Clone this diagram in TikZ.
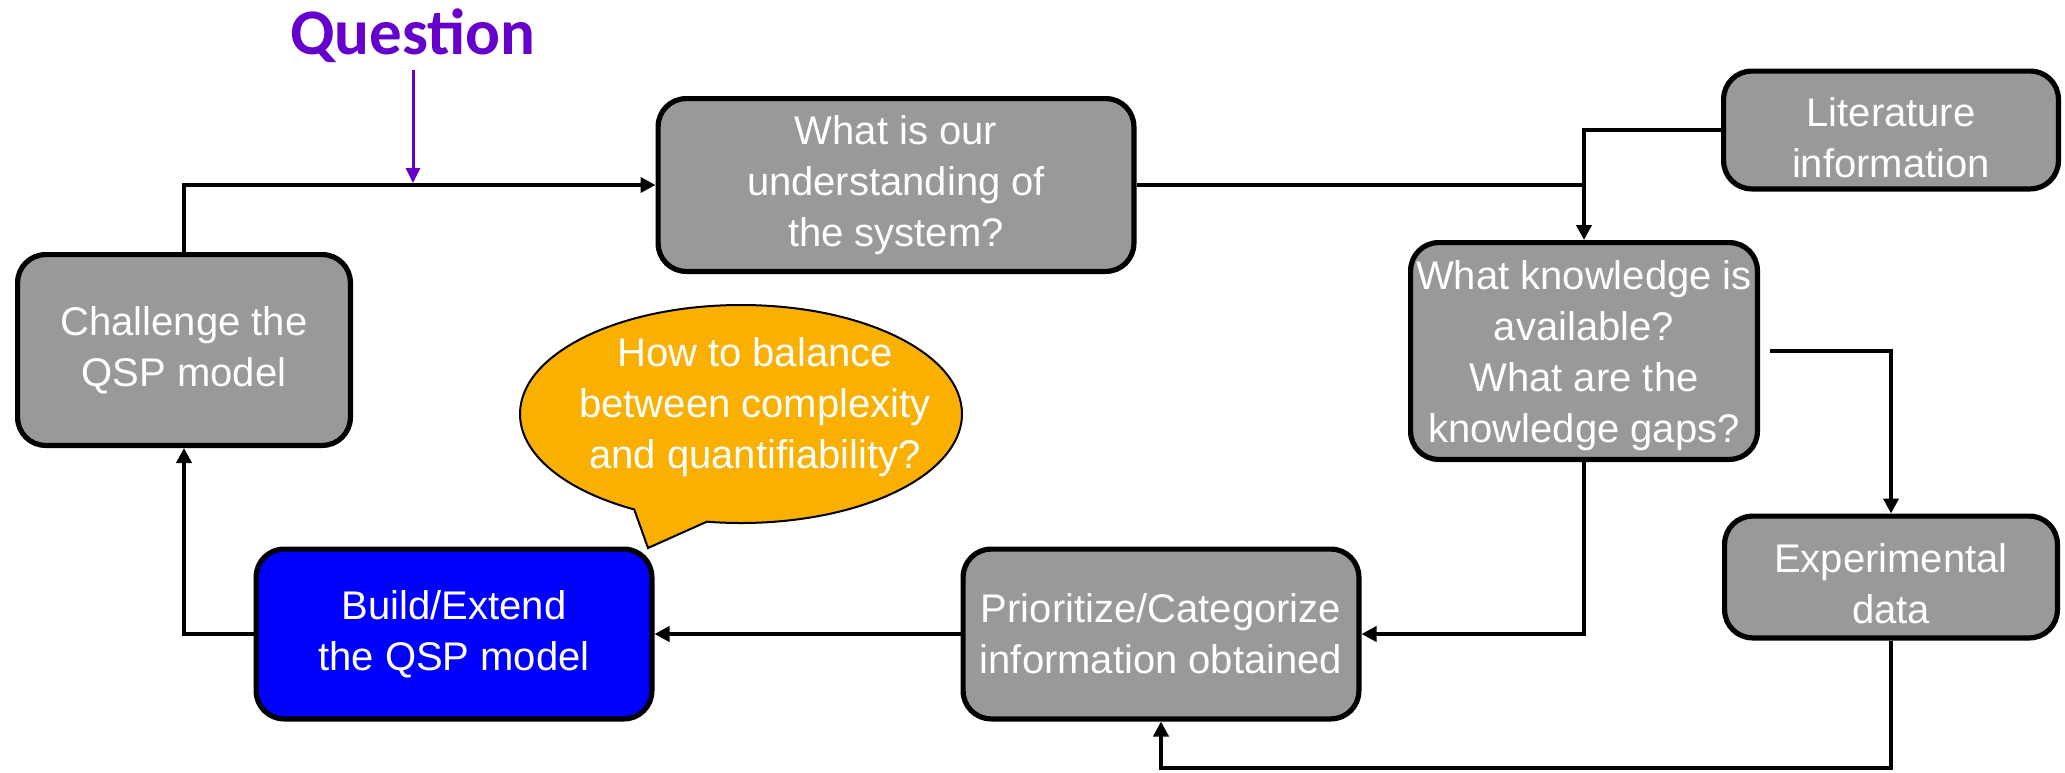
\documentclass[tikz,border=0pt]{standalone}
\usepackage{fontspec}
\setmainfont{Liberation Sans}
\newfontfamily\qfont{Carlito}
\usetikzlibrary{arrows.meta,shapes.callouts}
\definecolor{boxgray}{HTML}{999999}
\definecolor{qspblue}{HTML}{0000FF}
\definecolor{bubbleorange}{HTML}{F9B000}
\definecolor{qpurple}{HTML}{6600CC}
% lines set a little below the box centre, without changing the box size
\newcommand\lowered[2]{\raisebox{-#1}[\height][\depth]{\begin{tabular}{@{}c@{}}#2\end{tabular}}}
\begin{document}
\begin{tikzpicture}[x=0.5pt,y=-0.5pt,
  stepbox/.style={draw=black, line width=2.6pt, fill=boxgray, rounded corners=14pt,
    align=center, text=white, inner sep=0pt, font=\fontsize{20}{25.5}\selectfont},
  conn/.style={line width=2pt, -{Triangle[length=7.5pt,width=7.5pt]}},
  plainline/.style={line width=2pt},
  qarrow/.style={line width=1.5pt, draw=qpurple, -{Triangle[length=7.5pt,width=7pt]}},
  ]
\useasboundingbox (0,0) rectangle (2065,772);

% process steps
\node[stepbox, minimum width=166.4pt, minimum height=95.4pt] (challenge) at (184,350) {Challenge the\\QSP model};
\node[stepbox, minimum width=237.9pt, minimum height=86.4pt] (underst) at (896,185) {What is our\\understanding of\\the system?};
\node[stepbox, minimum width=167.4pt, minimum height=58.9pt] (lit) at (1891,130) {\lowered{6pt}{Literature\\information}};
\node[stepbox, minimum width=173.4pt, minimum height=108.4pt] (know) at (1584,351) {\lowered{2.5pt}{What knowledge is\\available?\\What are the\\knowledge gaps?}};
\node[stepbox, minimum width=166.4pt, minimum height=60.9pt] (exper) at (1891,577) {\lowered{5.5pt}{Experimental\\data}};
\node[stepbox, minimum width=197.9pt, minimum height=84.9pt] (prior) at (1161,634) {Prioritize/Categorize\\information obtained};

% speech bubble
\node[ellipse callout, draw=black, line width=1pt, fill=bubbleorange,
  minimum width=221pt, minimum height=109pt, inner sep=0pt,
  callout absolute pointer={(648,548)}, callout pointer arc=20] (bubble) at (741,414) {};
\node[text=white, align=center, inner sep=0pt, font=\fontsize{20}{25.5}\selectfont] (bubbletext) at (755,407)
  {How to balance\\between complexity\\and quantifiability?};

\node[stepbox, fill=qspblue, minimum width=197.9pt, minimum height=84.9pt] (build) at (454,634) {Build/Extend\\the QSP model};

% question label
\node[text=qpurple, font=\qfont\bfseries\fontsize{32.5}{38}\selectfont, inner sep=0pt, anchor=base] (question) at (413,54) {Question};

% connectors
\coordinate (bottomrail) at (0,768);
\draw[conn] (challenge.north) |- (underst.west);
\draw[qarrow, shorten >=1pt] ([yshift=-3.5pt]question.south) -- (question.south |- underst.west);
\draw[plainline] (underst.east) -- (underst.east -| know.north);
\draw[conn] (lit.west) -| (know.north);
\draw[conn] ([xshift=5pt]know.east) -| (exper.north);
\draw[conn] (know.south) |- (prior.east);
\draw[conn] (exper.south) -- (exper.south |- bottomrail) -| (prior.south);
\draw[conn] (prior.west) -- (build.east);
\draw[conn] (build.west) -| (challenge.south);
\end{tikzpicture}
\end{document}
